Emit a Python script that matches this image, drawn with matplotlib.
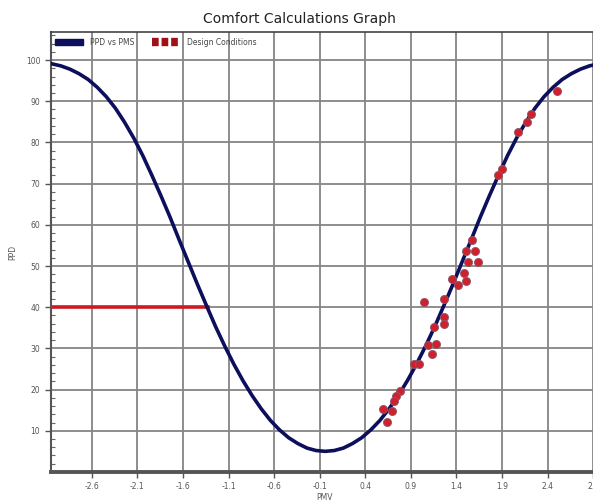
import matplotlib
matplotlib.use("Agg")
import matplotlib.pyplot as plt
from matplotlib.patches import Patch
from matplotlib.lines import Line2D
from matplotlib.ticker import MultipleLocator

# PPD vs PMV curve (minimum a touch left of 0)
pmv = [-3.14, -3.04, -2.94, -2.84, -2.74, -2.64, -2.54, -2.44, -2.34, -2.24,
       -2.14, -2.04, -1.94, -1.84, -1.74, -1.64, -1.54, -1.44, -1.34, -1.24,
       -1.14, -1.04, -0.94, -0.84, -0.74, -0.64, -0.54, -0.44, -0.34, -0.24,
       -0.14, -0.04, 0.06, 0.16, 0.26, 0.36, 0.46, 0.56, 0.66, 0.76,
       0.86, 0.96, 1.06, 1.16, 1.26, 1.36, 1.46, 1.56, 1.66, 1.76,
       1.86, 1.96, 2.06, 2.16, 2.26, 2.36, 2.46, 2.56, 2.66, 2.76,
       2.86, 2.96, 3.06]
ppd = [99.5, 99.1, 98.6, 97.8, 96.7, 95.3, 93.4, 91.1, 88.3, 84.9,
       81.1, 76.8, 72.0, 67.0, 61.8, 56.3, 50.9, 45.5, 40.3, 35.2,
       30.5, 26.1, 22.1, 18.5, 15.3, 12.5, 10.2, 8.3, 6.9, 5.8,
       5.2, 5.0, 5.2, 5.8, 6.9, 8.3, 10.2, 12.5, 15.3, 18.5,
       22.1, 26.1, 30.5, 35.2, 40.3, 45.5, 50.9, 56.3, 61.8, 67.0,
       72.0, 76.8, 81.1, 84.9, 88.3, 91.1, 93.4, 95.3, 96.7, 97.8,
       98.6, 99.1, 99.5]

# design condition points
dc_pmv = [1.57, 1.51, 1.60, 1.53, 1.64, 1.48, 1.35, 1.50, 1.42, 1.04,
          1.26, 1.26, 1.26, 1.15, 1.09, 1.18, 1.13, 0.93, 0.99, 0.78,
          0.74, 0.72, 0.59, 0.69, 0.64, 2.50, 2.22, 2.17, 2.08, 1.90, 1.86]
dc_ppd = [56.3, 53.7, 53.7, 51.0, 51.0, 48.2, 46.9, 46.4, 45.3, 41.3,
          42.1, 37.7, 35.9, 35.3, 30.8, 31.1, 28.6, 26.2, 26.2, 19.7,
          18.4, 17.3, 15.4, 14.9, 12.1, 92.6, 86.8, 85.0, 82.6, 73.5, 72.0]

# 40% line
lim_x = [-3.05, -1.32]
lim_y = [40, 40]

xticks = [-2.6, -2.1, -1.6, -1.1, -0.6, -0.1, 0.4, 0.9, 1.4, 1.9, 2.4, 2.9]
yticks = [10, 20, 30, 40, 50, 60, 70, 80, 90, 100]

navy = "#0b0f5c"
red = "#cc1a22"

fig = plt.figure(figsize=(5.93, 5.01), dpi=100)
ax = fig.add_axes([0.0855, 0.058, 0.9226, 0.878])

ax.plot(pmv, ppd, color=navy, lw=2.6, solid_capstyle="round",
        solid_joinstyle="round", zorder=3)
ax.plot(lim_x, lim_y, color=red, lw=2.6, zorder=2)
ax.scatter(dc_pmv, dc_ppd, s=34, color="#d0202e", edgecolor="#8a5a6a",
           linewidth=0.6, zorder=4)

ax.set_xlim(-3.05, 2.95)
ax.set_ylim(0, 106.8)
ax.set_xticks(xticks)
ax.set_xticklabels([str(t) for t in xticks])
ax.set_yticks(yticks)
ax.yaxis.set_minor_locator(MultipleLocator(2))
ax.grid(True, which="major", color="#858585", lw=1.3)
ax.set_axisbelow(True)

ax.tick_params(axis="both", which="major", labelsize=5.5, labelcolor="#555555",
               color="#555555", length=4, width=1)
ax.tick_params(axis="y", which="minor", direction="in", length=3,
               color="#666666", width=0.8)

for s in ["left", "bottom"]:
    ax.spines[s].set_color("#555555")
ax.spines["left"].set_linewidth(1.5)
ax.spines["bottom"].set_linewidth(2.8)
ax.spines["top"].set_color("#444444")
ax.spines["top"].set_linewidth(1.2)
ax.spines["right"].set_visible(False)

ax.set_xlabel("PMV", fontsize=5.5, color="#555555", labelpad=1)
ax.set_ylabel("PPD", fontsize=5.5, color="#555555", labelpad=6)

handles = [Patch(facecolor=navy, edgecolor=navy),
           Line2D([], [], color="#a01018", lw=6, linestyle=(0, (0.8, 0.35)))]
ax.legend(handles, ["PPD vs PMS", "Design Conditions"], loc="upper left",
          bbox_to_anchor=(0.0, 0.998), ncol=2, frameon=False, fontsize=5.5,
          labelcolor="#444444", handlelength=3.6, handleheight=0.9,
          handletextpad=0.9, columnspacing=2.4, borderaxespad=0.2)

fig.text(0.505, 0.963, "Comfort Calculations Graph", ha="center", va="center",
         fontsize=10, color="#222222")

fig.savefig("out.png", dpi=100)
